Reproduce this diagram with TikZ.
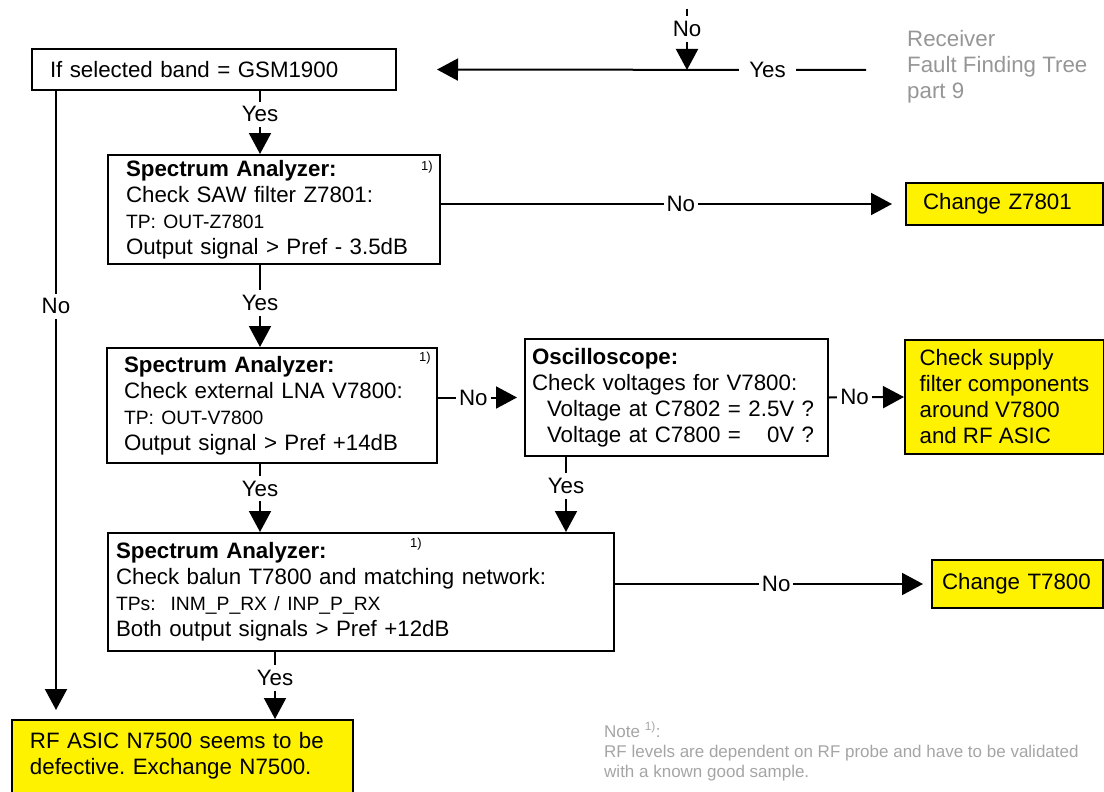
\documentclass[tikz,border=0pt]{standalone}
\usepackage{fontspec}
\setmainfont{Liberation Sans}
\usetikzlibrary{arrows.meta}
\frenchspacing

\definecolor{titlegray}{RGB}{150,150,150}
\definecolor{notegray}{RGB}{165,165,165}
\newcommand{\tpfont}{\fontsize{19.3pt}{23pt}\selectfont}
\newcommand{\fnfont}{\fontsize{13pt}{15pt}\selectfont}

\tikzset{
	box/.style={draw, line width=2pt, anchor=north west, align=left, inner ysep=0pt},
	ybox/.style={box, fill=yellow},
	lbl/.style={fill=white, inner xsep=3pt, inner ysep=5pt},
	conn/.style={line width=2pt, -{Triangle[length=21pt,width=22pt]}},
	fn/.style={font=\fnfont, inner sep=0pt},
}

\begin{document}
\begin{tikzpicture}[x=1pt, y=-1pt, font=\fontsize{22.3pt}{26pt}\selectfont]
	\useasboundingbox (0,0) rectangle (1104,792);

	\node[box, text width=328pt, inner xsep=18pt, minimum height=41pt] (band) at (31,48) {If selected band = GSM1900};
	\node[box, text width=296pt, inner xsep=18pt, minimum height=109pt] (sa1) at (107,154) {{\bfseries Spectrum Analyzer:}\\Check SAW filter Z7801:\\{\tpfont TP: OUT-Z7801}\\Output signal > Pref - 3.5dB};
	\node[ybox, text width=163pt, inner xsep=17pt, minimum height=42pt] (chz) at (905,182) {Change Z7801};
	\node[box, text width=296pt, inner xsep=17pt, minimum height=115pt] (sa2) at (106,347) {{\bfseries Spectrum Analyzer:}\\Check external LNA V7800:\\{\tpfont TP: OUT-V7800}\\Output signal > Pref +14dB};
	\node[box, text width=289pt, inner xsep=7pt, minimum height=117pt] (osc) at (524,338) {{\bfseries Oscilloscope:}\\Check voltages for V7800:\\\hspace*{15pt}Voltage at C7802 = 2.5V ?\\\hspace*{15pt}Voltage at C7800 = \phantom{2.}0V ?};
	\node[ybox, minimum width=199pt, minimum height=114pt, inner xsep=0pt] (supply) at (904,339) {Check supply\\filter components\\around V7800\\and RF ASIC};
	\node[box, text width=490pt, inner xsep=8pt, minimum height=118pt] (sa3) at (107,532) {{\bfseries Spectrum Analyzer:}\\Check balun T7800 and matching network:\\{\tpfont TPs:\ \ INM\_P\_RX / INP\_P\_RX}\\Both output signals > Pref +12dB};
	\node[ybox, text width=151pt, inner xsep=10pt, minimum height=48pt] (cht) at (931,559) {Change T7800};
	\node[ybox, text width=305pt, inner xsep=18pt, inner ysep=12.5pt, text depth=60pt] (asic) at (11,719) {RF ASIC N7500 seems to be\\defective. Exchange N7500.};

	\node[fn] (fn1) at (427,167) {1)};
	\node[fn] (fn2) at (425,358) {1)};
	\node[fn] (fn3) at (416,544) {1)};

	\node[anchor=north west, inner sep=0pt, align=left, text=titlegray] (title) at (907,30) {Receiver\\Fault Finding Tree\\part 9};
	\node[anchor=north west, inner sep=0pt, align=left, text=notegray, font=\fontsize{17pt}{20pt}\selectfont] (note) at (604,722) {Note \textsuperscript{1)}:\\RF levels are dependent on RF probe and have to be validated\\with a known good sample.};

	\coordinate (fromright) at (866,70);
	\coordinate (fromtop) at (687,9);
	\coordinate (join) at (687,70);
	\coordinate (colA) at (260,0);
	\coordinate (colB) at (566,0);
	\coordinate (colC) at (275,0);
	\coordinate (colL) at (56,0);

	\draw[conn, shorten >=40pt] (fromright) -- node[lbl, inner xsep=10pt, pos=0.21] {Yes} (band.east);
	\draw[conn] (fromtop) -- node[lbl, pos=0.33] {No} (join);
	\draw[conn] (band.south -| colA) -- node[lbl, pos=0.37] {Yes} (sa1.north -| colA);
	\draw[conn] (sa1.south -| colA) -- node[lbl, pos=0.46] {Yes} (sa2.north -| colA);
	\draw[conn] (sa2.south -| colA) -- node[lbl, pos=0.36] {Yes} (sa3.north -| colA);
	\draw[conn] (osc.south -| colB) -- node[lbl, pos=0.39] {Yes} (sa3.north -| colB);
	\draw[conn] (sa3.south -| colC) -- node[lbl, pos=0.39] {Yes} (asic.north -| colC);
	\draw[conn, shorten >=9pt] (band.south -| colL) -- node[lbl, pos=0.343] {No} (asic.north -| colL);
	\draw[conn, shorten >=13pt] (sa1.east |- chz.west) -- node[lbl, pos=0.517] {No} (chz.west);
	\draw[conn, shorten >=7pt] (sa2.east |- osc.west) -- node[lbl, pos=0.41] {No} (osc.west);
	\draw[conn] (osc.east) -- node[lbl, pos=0.34] {No} (supply.west);
	\draw[conn, shorten >=8pt] (sa3.east |- cht.west) -- node[lbl, pos=0.51] {No} (cht.west);
\end{tikzpicture}
\end{document}
